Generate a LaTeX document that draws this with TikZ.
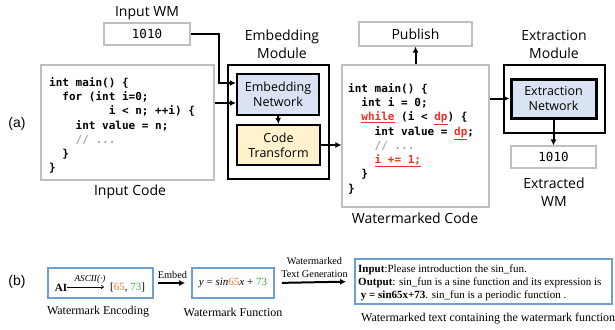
\documentclass[tikz,border=0pt]{standalone}
\usepackage{fontspec}
\setmainfont{Liberation Serif}
\setsansfont{Open Sans}
\setmonofont{DejaVu Sans Mono}
\newfontfamily\arialfont{Liberation Sans}
\usetikzlibrary{arrows.meta,calc}
\definecolor{boxgray}{HTML}{BFBFBF}
\definecolor{netblue}{HTML}{DAE3F3}
\definecolor{ctyellow}{HTML}{FFF2CC}
\definecolor{bblue}{HTML}{6E9FD3}
\definecolor{numor}{HTML}{EE7D31}
\definecolor{numgr}{HTML}{3CAE4A}
\definecolor{codered}{HTML}{EE3124}
\definecolor{cgray}{HTML}{A6A6A6}
\newcommand\fs[2]{\fontsize{#1}{#2}\selectfont}
\newcommand\redu[1]{\textcolor{codered}{\underline{#1}}}
\begin{document}
\begin{tikzpicture}[x=1pt,y=-1pt,
  lbl/.style={font=\sffamily\fs{14}{18}, align=center, inner sep=0},
  gbox/.style={draw=boxgray, line width=1.1pt, inner sep=0},
  modbox/.style={draw=black, line width=2pt, inner sep=0},
  netbox/.style={draw=black, line width=2.2pt, font=\sffamily\fs{12.5}{15}, align=center, inner sep=0},
  codetxt/.style={font=\ttfamily\bfseries\fs{11}{14.3}, align=left, inner sep=0, anchor=north west},
  wmtxt/.style={font=\ttfamily\fs{12.5}{14}},
  arr/.style={line width=2pt, -{Latex[length=6pt,width=6pt]}},
  bbox/.style={draw=bblue, line width=1.8pt, inner sep=0},
  rtxt/.style={font=\rmfamily\fs{12}{14}, inner sep=0},
  stxt/.style={font=\rmfamily\fs{10.3}{12.5}, inner sep=1pt}]
\useasboundingbox (0,0) rectangle (615,329);

% ---------------- (a) ----------------
\node[font=\arialfont\fs{14}{16}, inner sep=0] (labA) at (17,124) {(a)};

\node[lbl] (lblInWM) at (147,13) {Input WM};
\node[gbox, minimum width=86pt, minimum height=22pt, wmtxt] (wmIn) at (147,34) {1010};

\node[gbox, minimum width=173pt, minimum height=115pt] (inCode) at (127.5,122.5) {};
\node[codetxt] (inCodeTxt) at (49,77) {int main() \{\\
\phantom{xx}for (int i=0;\\
\phantom{xxxxxxxxx}i < n; ++i) \{\\
\phantom{xxxx}int value = n;\\
\phantom{xxxx}{\color{cgray}// ...}\\
\phantom{xx}\}\\
\}};
\node[lbl] (lblInCode) at (130,192) {Input Code};

\node[lbl] (lblEmb) at (282,44) {Embedding\\Module};
\node[modbox, minimum width=101pt, minimum height=114pt] (embMod) at (278.5,122) {};
\node[netbox, fill=netblue, minimum width=82pt, minimum height=41pt] (embNet) at (278,94.5) {Embedding\\Network};
\node[netbox, fill=ctyellow, minimum width=83pt, minimum height=40pt] (codeTr) at (278.5,145) {Code\\Transform};

\coordinate (yWM) at (0,83);
\coordinate (yCode) at (0,103);
\coordinate (xTurn) at (219,0);
\draw[arr] (wmIn.east) -| (xTurn |- yWM) -- (embNet.west |- yWM);
\draw[arr] (inCode.east |- yCode) -- (embNet.west |- yCode);
\draw[arr] (embNet.south) -- (codeTr.north);

\node[gbox, minimum width=147pt, minimum height=142pt] (wmCode) at (415.5,136) {};
\node[codetxt] (wmCodeTxt) at (348,83) {int main() \{\\
\phantom{xx}int i = 0;\\
\phantom{xx}\redu{while} (i < \redu{dp}) \{\\
\phantom{xxxx}int value = \redu{dp};\\
\phantom{xxxx}{\color{cgray}// ...}\\
\phantom{xxxx}\redu{i += 1;}\\
\phantom{xx}\}\\
\}};
\node[lbl] (lblWmCode) at (415,218) {Watermarked Code};
\draw[arr] (codeTr.east) -- (wmCode.west |- codeTr.east);

\node[gbox, minimum width=113pt, minimum height=24pt, font=\sffamily\fs{14}{16}] (publish) at (415.5,34) {Publish};
\draw[arr] (wmCode.north) -- (publish.south);

\node[lbl] (lblExt) at (554,44) {Extraction\\Module};
\node[modbox, line width=2.5pt, minimum width=101pt, minimum height=68pt] (extMod) at (554.5,99) {};
\node[netbox, line width=3pt, fill=netblue, minimum width=85pt, minimum height=39pt] (extNet) at (553.5,98.5) {Extraction\\Network};
\draw[arr] (wmCode.east |- extNet.west) -- (extNet.west);

\node[gbox, minimum width=85pt, minimum height=22pt, wmtxt] (wmOut) at (553.5,157) {1010};
\draw[arr] (extNet.south) -- (wmOut.north);
\node[lbl] (lblExtWM) at (554,192) {Extracted\\WM};

% ---------------- (b) ----------------
\node[font=\arialfont\fs{14}{16}, inner sep=0] (labB) at (17,282) {(b)};

\node[bbox, minimum width=105pt, minimum height=30pt] (enc) at (100.5,283) {};
\node[font=\rmfamily\bfseries\fs{11}{13}, inner sep=0] (ai) at (61,288) {AI};
\node[font=\rmfamily\fs{11}{13}, inner sep=0] (nums) at (127.5,288) {[{\color{numor}65}, {\color{numgr}73}]};
\coordinate (asciiEnd) at (104,287);
\draw[line width=0.6pt, -{To[length=3pt,width=4pt]}] (ai.east |- asciiEnd) -- (asciiEnd);
\node[font=\rmfamily\itshape\fs{9.2}{11}, inner sep=0] (asciiLbl) at (90,279) {ASCII(\textperiodcentered)};
\node[rtxt] (lblEnc) at (98,312) {Watermark Encoding};

\node[bbox, minimum width=82pt, minimum height=30pt, font=\rmfamily\fs{11}{13}] (fn) at (233,283) {\textit{y} = \textit{sin}\textcolor{numor}{65}\textit{x} + \textcolor{numgr}{73}};
\node[rtxt] (lblFn) at (233,312) {Watermark Function};

\draw[arr, shorten <=4pt, shorten >=6pt] (enc.east) -- node[stxt, above=2pt] (embedLbl) {Embed} (fn.west);

\node[bbox, minimum width=257pt, minimum height=45pt] (txt) at (483.5,281.5) {};
\node[font=\rmfamily\fs{11}{13}, align=left, inner sep=0, anchor=west] (txtC) at (358,283) {\textbf{Input}:Please introduction the sin\_fun.\\
\textbf{Output}: sin\_fun is a sine function and its expression is\\
\ \textbf{y = sin65x+73}. sin\_fun is a periodic function .};
\draw[arr, shorten <=7pt, shorten >=8pt] (fn.east) -- node[stxt, above=3pt, align=center] (genLbl) {Watermarked\\Text Generation} (txt.west);
\node[rtxt, anchor=west] (txtCap) at (361,319) {Watermarked text containing the watermark function};
\end{tikzpicture}
\end{document}
